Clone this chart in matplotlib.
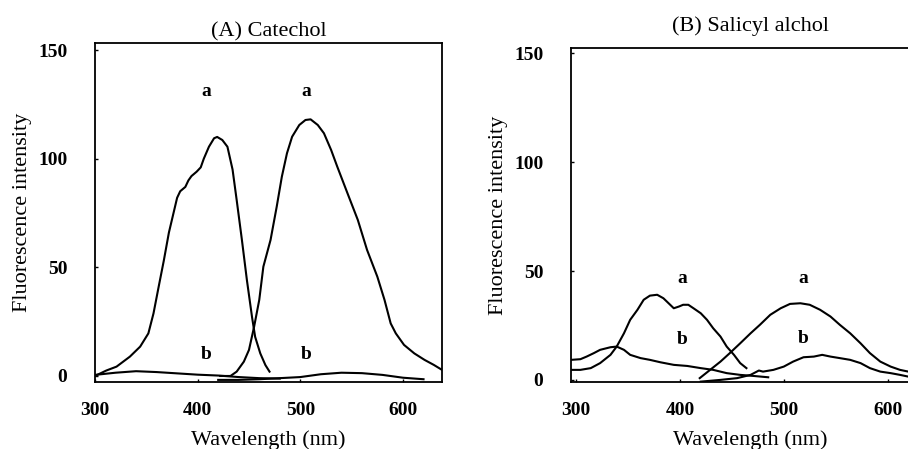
import matplotlib
matplotlib.use('Agg')
import matplotlib.pyplot as plt

# (A) Catechol - excitation (a) / emission (a), blanks (b)
wl_A_a1 = [300, 311, 321, 334, 344, 352, 357, 362, 367, 372, 377, 380, 383, 388, 391, 394, 399, 403,
           406, 411, 416, 419, 424, 429, 434, 438, 443, 448, 453, 456, 461, 466, 470]
int_A_a1 = [0, 2.5, 4.3, 8.9, 13.5, 19.6, 28.8, 41, 53, 66, 76, 82, 85, 87, 90, 92, 94, 96,
            100, 105.5, 109.4, 110, 108.6, 105.5, 95, 81, 63, 44, 27, 18, 10.4, 5, 2]
wl_A_a2 = [422, 432, 438, 445, 450, 455, 460, 464, 471, 477, 482, 487, 492, 499, 505, 510, 517, 523,
           530, 536, 546, 556, 565, 575, 582, 588, 593, 601, 611, 621, 630, 638]
int_A_a2 = [0, 0, 2.0, 6.6, 12.0, 22.7, 35.0, 50.3, 62.6, 77.9, 91.7, 102.5, 110.1, 115.5, 117.8, 118.1,
            115.5, 111.7, 104.0, 96.3, 84.0, 71.8, 58.0, 45.7, 35.0, 24.2, 19.6, 14.3, 10.4, 7.4, 5.1, 2.8]
wl_A_b1 = [300, 320, 340, 360, 380, 400, 420, 440, 460, 480]
int_A_b1 = [0.5, 1.5, 2.2, 1.8, 1.2, 0.6, 0.2, -0.5, -1.0, -1.2]
wl_A_b2 = [420, 440, 460, 480, 500, 520, 540, 560, 580, 600, 620]
int_A_b2 = [-1.8, -1.8, -1.5, -1.0, -0.5, 0.8, 1.5, 1.3, 0.5, -0.8, -1.5]

# (B) Salicyl alchol
wl_B_a1 = [295, 304, 314, 323, 333, 339, 346, 352, 359, 365, 371, 378, 384, 389, 394, 399, 403,
           408, 413, 420, 426, 432, 439, 445, 452, 458, 464]
int_B_a1 = [4.6, 4.6, 5.4, 7.7, 11.5, 15.3, 21.4, 27.6, 32.2, 36.8, 38.7, 39.1, 37.5, 35.2, 32.9,
            33.7, 34.5, 34.5, 32.9, 30.6, 27.6, 23.7, 19.9, 15.3, 11.5, 7.7, 5.4]
wl_B_b1 = [295, 304, 310, 317, 323, 333, 339, 346, 352, 362, 371, 381, 394, 407, 420, 432, 445,
           458, 471, 485]
int_B_b1 = [9.2, 9.5, 10.7, 12.3, 13.8, 15.0, 15.3, 13.8, 11.5, 10.0, 9.2, 8.1, 6.9, 6.4, 5.4, 4.6,
            3.1, 2.3, 1.8, 1.2]
wl_B_a2 = [419, 429, 439, 448, 458, 468, 477, 487, 497, 506, 516, 525, 535, 545, 554, 564, 574,
           583, 593, 603, 612, 620, 630, 640]
int_B_a2 = [0.8, 4.6, 8.4, 12.3, 16.8, 21.4, 25.3, 29.9, 32.9, 34.9, 35.2, 34.5, 32.2, 29.1, 25.3,
            21.4, 16.8, 12.3, 8.4, 6.1, 4.6, 3.8, 3.0, 2.5]
wl_B_b2 = [420, 439, 455, 468, 476, 480, 490, 500, 509, 519, 529, 537, 545, 554, 564, 574, 583,
           593, 603, 612, 620, 630, 640]
int_B_b2 = [-0.8, 0, 0.8, 2.3, 4.3, 3.8, 4.6, 6.1, 8.4, 10.4, 10.7, 11.5, 10.7, 10.0, 9.2, 7.7,
            5.4, 3.8, 3.1, 2.3, 1.5, 1.2, 1.0]

# curve labels (x, y, text)
labels_A = [(408, 131, 'a'), (506, 131, 'a'), (408, 9.7, 'b'), (506, 9.7, 'b')]
labels_B = [(402, 46.7, 'a'), (519, 46.7, 'a'), (402, 18.7, 'b'), (519, 19.1, 'b')]

yticks = [0, 50, 100, 150]
xticks = [300, 400, 500, 600]

plt.rcParams['font.family'] = ['Liberation Serif', 'DejaVu Serif']

fig = plt.figure(figsize=(9.08, 4.49), dpi=100)
axA = fig.add_axes([0.1046, 0.1486, 0.3822, 0.755])
axB = fig.add_axes([0.6289, 0.1486, 0.3943, 0.7452])

lw = 1.5
for x, y in [(wl_A_a1, int_A_a1), (wl_A_a2, int_A_a2), (wl_A_b1, int_A_b1), (wl_A_b2, int_A_b2)]:
    axA.plot(x, y, color='black', lw=lw)
for x, y in [(wl_B_a1, int_B_a1), (wl_B_b1, int_B_b1), (wl_B_a2, int_B_a2), (wl_B_b2, int_B_b2)]:
    axB.plot(x, y, color='black', lw=lw)

for ax, labs in [(axA, labels_A), (axB, labels_B)]:
    for x, y, t in labs:
        ax.text(x, y, t, ha='center', va='center', fontsize=14, fontweight='bold')

axA.set_xlim(300, 638)
axA.set_ylim(-2.9, 153.1)
axB.set_xlim(295, 640)
axB.set_ylim(-1.1, 152.6)

axA.set_title('(A) Catechol', fontsize=16, pad=5)
axB.set_title('(B) Salicyl alchol', fontsize=16, pad=12)

for ax in (axA, axB):
    ax.set_xticks(xticks)
    ax.set_yticks(yticks)
    ax.tick_params(direction='in', length=2, width=1, labelsize=14, pad=14)
    ax.tick_params(axis='y', pad=20)
    for lab in ax.get_xticklabels() + ax.get_yticklabels():
        lab.set_fontweight('bold')
    ax.set_xlabel('Wavelength (nm)', fontsize=16, labelpad=8)
    ax.set_ylabel('Fluorescence intensity', fontsize=16, labelpad=4)
    for s in ax.spines.values():
        s.set_linewidth(1.3)

plt.savefig('out.png', dpi=100)
